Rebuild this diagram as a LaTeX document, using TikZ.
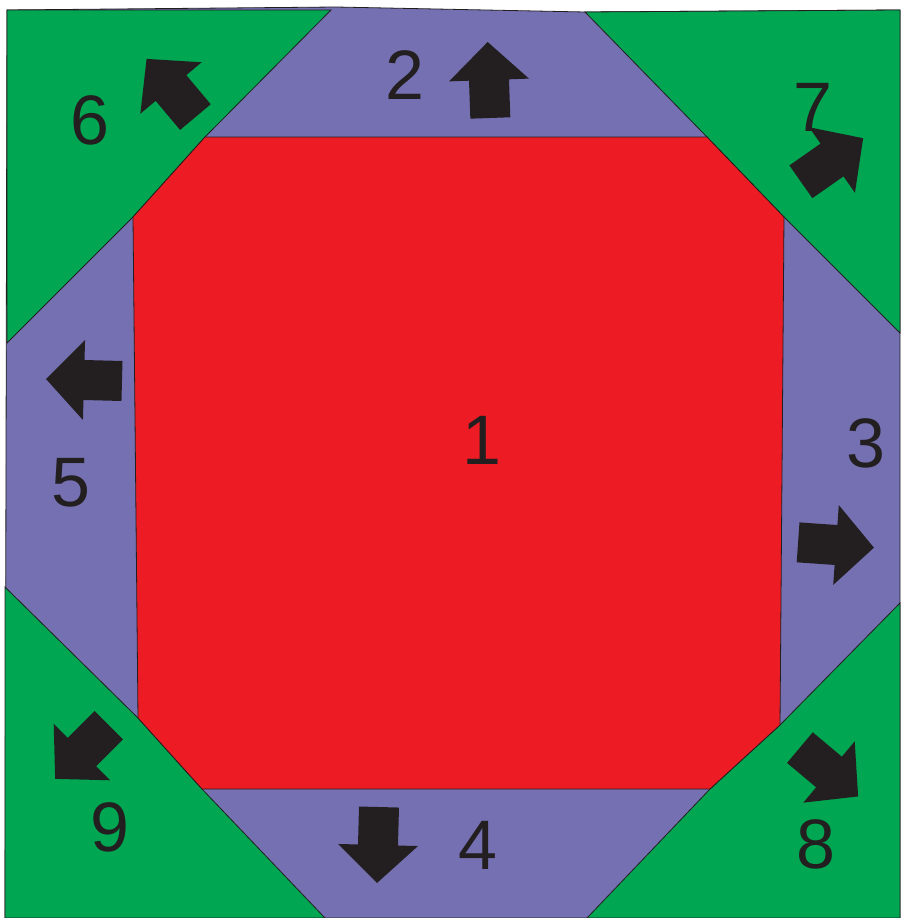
\documentclass[tikz,border=0pt]{standalone}
\usepackage{fontspec}
\setmainfont{Liberation Sans}
\definecolor{grn}{HTML}{00A651}
\definecolor{prp}{HTML}{7470B2}
\definecolor{rd}{HTML}{ED1C24}
\definecolor{ink}{HTML}{231F20}
\tikzset{
  region/.style={draw=ink, line width=0.8pt, line join=miter},
  purplepart/.style={region, fill=prp},
  greenpart/.style={region, fill=grn},
  redpart/.style={region, fill=rd},
  lbl/.style={inner sep=0pt, text=ink, font=\fontsize{70}{80}\selectfont},
  blockarrow/.style={fill=ink, draw=none}
}
\newcommand\blkarrow[3]{\fill[blockarrow, shift={(#1,#2)}, rotate=#3] (-38,-20) -- (0,-20) -- (0,-40) -- (38,0) -- (0,40) -- (0,20) -- (-38,20) -- cycle;}
\begin{document}
\begin{tikzpicture}[x=1pt,y=-1pt]
\useasboundingbox (0,0) rectangle (900,918);
% purple background (regions 2,3,4,5)
\path[purplepart] (7,10) -- (336,7) -- (585,12) -- (900,10) -- (900,918) -- (5,918) -- cycle;
% green corners
\path[greenpart] (7,10) -- (331,10) -- (205,137) -- (133,217) -- (7,343) -- cycle;
\path[greenpart] (585,12) -- (900,10) -- (900,333) -- (784,217) -- (707,137) -- cycle;
\path[greenpart] (900,603) -- (780,725) -- (710,789) -- (587,918) -- (900,918) -- cycle;
\path[greenpart] (5,587) -- (138,718) -- (202,789) -- (325,918) -- (5,918) -- cycle;
% red centre
\path[redpart] (205,137) -- (707,137) -- (784,217) -- (780,725) -- (710,789) -- (202,789) -- (138,718) -- (133,217) -- cycle;
% labels
\node[lbl] (l1) at (482,440) {1};
\node[lbl] (l2) at (405,75) {2};
\node[lbl] (l3) at (866,443) {3};
\node[lbl] (l4) at (478,845) {4};
\node[lbl] (l5) at (71,483) {5};
\node[lbl] (l6) at (90,120) {6};
\node[lbl] (l7) at (813,107) {7};
\node[lbl] (l8) at (816,844) {8};
\node[lbl] (l9) at (110,827) {9};
% arrows
\blkarrow{489}{80}{92}
\blkarrow{378}{845}{-91.5}
\blkarrow{84}{380}{178.5}
\blkarrow{836}{545}{-4}
\blkarrow{171}{88}{130}
\blkarrow{832}{160}{35}
\blkarrow{829}{772}{-40}
\blkarrow{82}{752}{-135}
\end{tikzpicture}
\end{document}
